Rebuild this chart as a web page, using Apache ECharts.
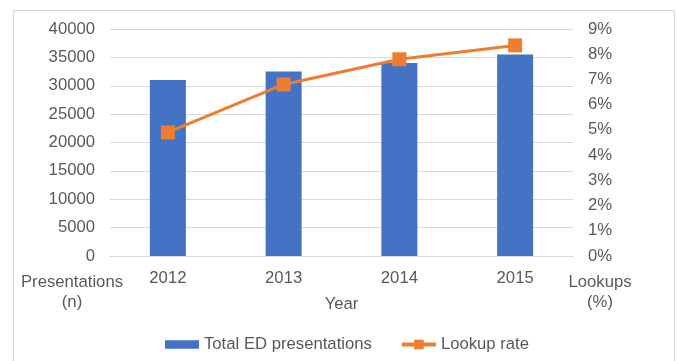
<!DOCTYPE html>
<html>
<head>
<meta charset="utf-8">
<script src="https://cdn.jsdelivr.net/npm/echarts@6/dist/echarts.min.js"></script>
<style>
  html, body { margin: 0; padding: 0; background: #fff; }
  #chart { width: 677px; height: 361px; }
</style>
</head>
<body>
<div id="chart"></div>
<script>
// Emergency department presentations per year and the lookup rate
const years = ['2012', '2013', '2014', '2015'];
const presentations = [31000, 32500, 34000, 35500];
const lookupRate = [4.9, 6.8, 7.8, 8.35];

const textColor = '#595959';
const gridColor = '#d9d9d9';
const fontFamily = 'Liberation Sans, Arial, sans-serif';
const fontSize = 16.7;

const chart = echarts.init(document.getElementById('chart'));
chart.setOption({
  animation: false,
  textStyle: { fontFamily: fontFamily, color: textColor },
  grid: { left: 110, right: 104, top: 29, bottom: 105 },
  legend: {
    left: 165,
    top: 336,
    padding: 0,
    itemGap: 28,
    itemWidth: 34,
    itemHeight: 12,
    textStyle: { fontSize: fontSize, color: textColor, fontFamily: fontFamily },
    data: [
      { name: 'Total ED presentations', icon: 'path://M0,0h32v8h-32z' },
      { name: 'Lookup rate', lineStyle: { width: 4 } }
    ]
  },
  xAxis: {
    type: 'category',
    data: years,
    name: 'Year',
    nameLocation: 'middle',
    nameGap: 40,
    nameTextStyle: { fontSize: fontSize, color: textColor },
    axisLine: { lineStyle: { color: gridColor, width: 1 } },
    axisTick: { show: false },
    axisLabel: { fontSize: fontSize, color: textColor, margin: 14 }
  },
  yAxis: [
    {
      type: 'value',
      min: 0,
      max: 40000,
      interval: 5000,
      axisLine: { show: false },
      axisTick: { show: false },
      splitLine: { lineStyle: { color: gridColor, width: 1 } },
      axisLabel: { fontSize: fontSize, color: textColor, margin: 15, formatter: (v) => String(v) }
    },
    {
      type: 'value',
      min: 0,
      max: 9,
      interval: 1,
      axisLine: { show: false },
      axisTick: { show: false },
      splitLine: { show: false },
      axisLabel: { fontSize: fontSize, color: textColor, margin: 15, formatter: '{value}%' }
    }
  ],
  graphic: [
    {
      type: 'rect',
      shape: { x: 13.5, y: 10.5, width: 661, height: 380 },
      style: { fill: 'none', stroke: gridColor, lineWidth: 1 },
      silent: true
    },
    {
      type: 'text',
      x: 72, y: 272,
      style: { text: 'Presentations\n(n)', fontSize: fontSize, fill: textColor, align: 'center', lineHeight: 20, fontFamily: fontFamily }
    },
    {
      type: 'text',
      x: 600, y: 272,
      style: { text: 'Lookups\n(%)', fontSize: fontSize, fill: textColor, align: 'center', lineHeight: 20, fontFamily: fontFamily }
    }
  ],
  series: [
    {
      name: 'Total ED presentations',
      type: 'bar',
      yAxisIndex: 0,
      barWidth: 36,
      itemStyle: { color: '#4472C4' },
      data: presentations
    },
    {
      name: 'Lookup rate',
      type: 'line',
      yAxisIndex: 1,
      symbol: 'rect',
      symbolSize: 14,
      lineStyle: { color: '#ED7D31', width: 3 },
      itemStyle: { color: '#ED7D31' },
      data: lookupRate
    }
  ]
});
</script>
</body>
</html>
